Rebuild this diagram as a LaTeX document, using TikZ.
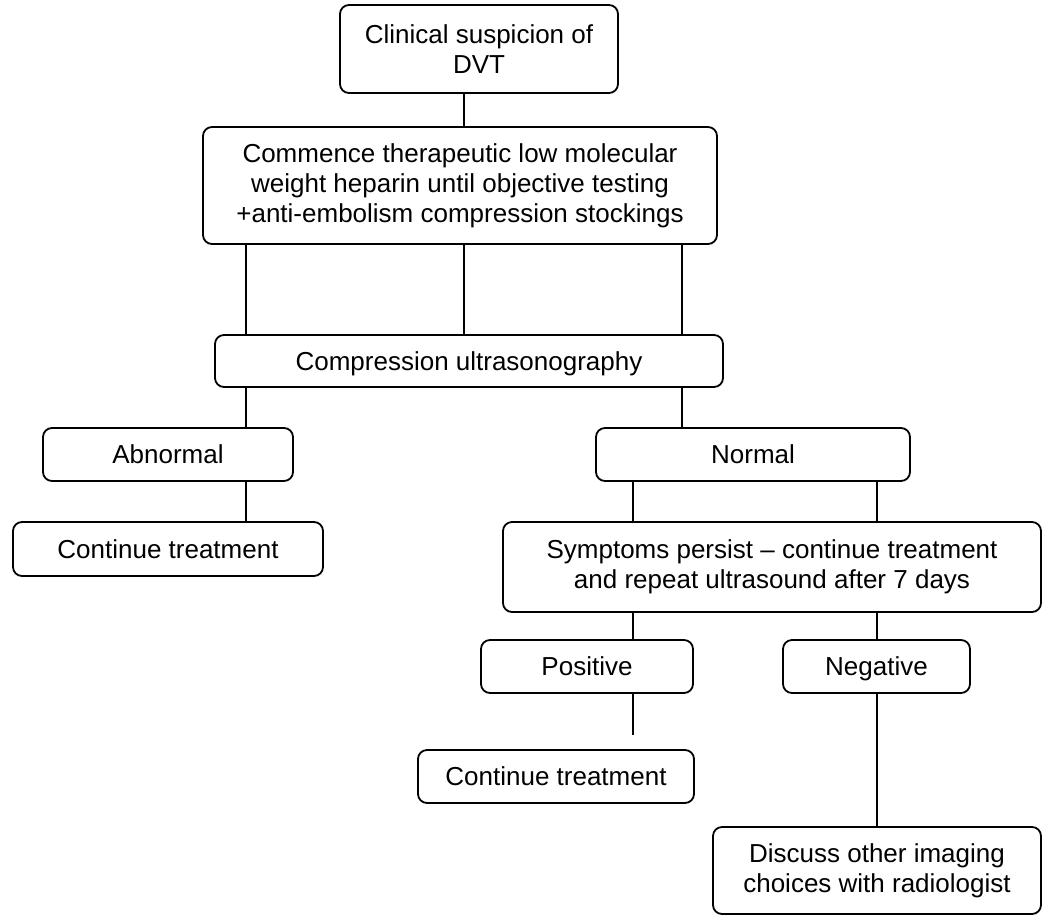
\documentclass[tikz,border=0pt]{standalone}
\usepackage{fontspec}
\setmainfont{Liberation Sans}
\begin{document}
\begin{tikzpicture}[x=1pt,y=1pt,
  box/.style={draw, line width=1.8pt, rounded corners=9pt, align=center, inner sep=0pt,
    font=\fontsize{26}{30}\selectfont},
  one/.style={box, text height=19pt, text depth=1pt},
  conn/.style={line width=1.8pt}]
\useasboundingbox (0,0) rectangle (1043,-916);
\fill[white] (0,0) rectangle (1043,-916);
% boxes
\node[box, minimum width=278, minimum height=88] (b1) at (479,-49) {Clinical suspicion of\\DVT};
\node[box, minimum width=514, minimum height=117] (b2) at (460,-185.5) {Commence therapeutic low molecular\\weight heparin until objective testing\\+anti-embolism compression stockings};
\node[one, minimum width=508, minimum height=52] (b3) at (469,-361) {Compression ultrasonography};
\node[one, minimum width=250, minimum height=53] (ab) at (168,-454.5) {Abnormal};
\node[one, minimum width=314, minimum height=53] (no) at (753,-454.5) {Normal};
\node[one, minimum width=310, minimum height=54] (c1) at (168,-549) {Continue treatment};
\node[box, minimum width=538, minimum height=90] (sy) at (772,-567) {Symptoms persist -- continue treatment\\and repeat ultrasound after 7 days};
\node[one, minimum width=212, minimum height=53] (po) at (587,-666.5) {Positive};
\node[one, minimum width=187, minimum height=53] (ne) at (876.5,-666.5) {Negative};
\node[one, minimum width=276, minimum height=53] (c2) at (556,-776.5) {Continue treatment};
\node[box, minimum width=328, minimum height=87] (di) at (877,-870.5) {Discuss other imaging\\choices with radiologist};
% x positions of connectors
\coordinate (xm) at (464,0);
\coordinate (xl) at (246,0);
\coordinate (xr) at (682,0);
\coordinate (xp) at (633,0);
\coordinate (xn) at (877,0);
\coordinate (pend) at (633,-735);
% connectors
\draw[conn] (b1.south -| xm) -- (b2.north -| xm);
\draw[conn] (b2.south -| xl) -- (b3.north -| xl);
\draw[conn] (b2.south -| xm) -- (b3.north -| xm);
\draw[conn] (b2.south -| xr) -- (b3.north -| xr);
\draw[conn] (b3.south -| xl) -- (ab.north -| xl);
\draw[conn] (b3.south -| xr) -- (no.north -| xr);
\draw[conn] (ab.south -| xl) -- (c1.north -| xl);
\draw[conn] (no.south -| xp) -- (sy.north -| xp);
\draw[conn] (no.south -| xn) -- (sy.north -| xn);
\draw[conn] (sy.south -| xp) -- (po.north -| xp);
\draw[conn] (sy.south -| xn) -- (ne.north -| xn);
\draw[conn] (po.south -| xp) -- (pend);
\draw[conn] (ne.south -| xn) -- (di.north -| xn);
\end{tikzpicture}
\end{document}
